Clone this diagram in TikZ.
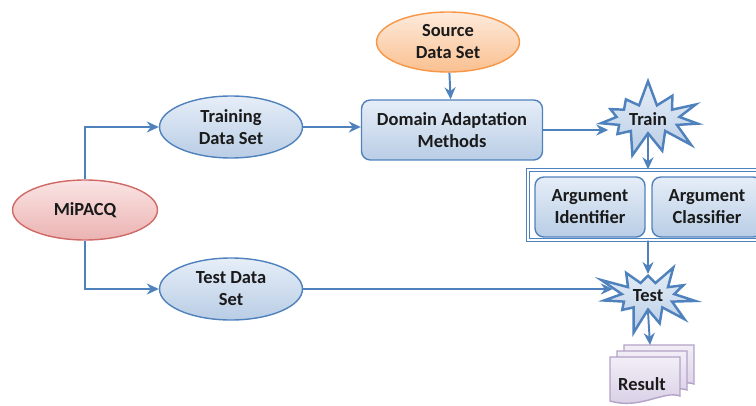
\documentclass[tikz,border=0pt]{standalone}
\usepackage{fontspec}
\setmainfont{Carlito}
\usetikzlibrary{positioning,arrows.meta,shapes.geometric,shapes.symbols}
\definecolor{blue600}  {HTML}{4F81BD}
\definecolor{blue200}  {HTML}{B9CDE5}
\definecolor{blue100}  {HTML}{E6EEF8}
\definecolor{red600}   {HTML}{D06A67}
\definecolor{red200}   {HTML}{EBB3B2}
\definecolor{red100}   {HTML}{FAE4E4}
\definecolor{orange600}{HTML}{F79646}
\definecolor{orange200}{HTML}{FAC090}
\definecolor{orange100}{HTML}{FDEBDC}
\definecolor{purple600}{HTML}{B3A2C7}
\definecolor{purple200}{HTML}{D6CCE4}
\definecolor{purple100}{HTML}{F2EEF7}
\definecolor{grey900}  {HTML}{1A1A1A}
\tikzset{
  base/.style ={line width=0.8pt, align=center, inner sep=2pt, text=grey900,
                font=\fontsize{10.5}{12.5}\selectfont\bfseries},
  ell/.style  ={base, ellipse, draw=blue600, top color=blue100,
                bottom color=blue200, minimum width=2.86cm,
                minimum height=1.24cm},
  ellr/.style ={base, ellipse, draw=red600, top color=red100,
                bottom color=red200, minimum width=2.9cm,
                minimum height=1.2cm},
  ello/.style ={base, ellipse, draw=orange600, top color=orange100,
                bottom color=orange200, minimum width=2.86cm,
                minimum height=1.2cm},
  box/.style  ={base, draw=blue600, top color=blue100, bottom color=blue200,
                rounded corners=5pt, minimum height=1.2cm},
  burst/.style={base, starburst, starburst points=11, line width=1.4pt,
                starburst point height=0.52cm, draw=blue600,
                top color=blue100, bottom color=blue200,
                minimum width=1.45cm, minimum height=0.75cm},
  frame/.style={draw=blue600, line width=0.8pt, double=white,
                double distance=0.8pt, minimum height=1.4cm},
  page/.style ={line width=0.8pt, draw=purple600, top color=purple100,
                bottom color=purple200},
  ar/.style   ={-{Stealth[length=2.4mm,width=2.2mm]}, draw=blue600,
                line width=1.1pt}
}
\begin{document}
\begin{tikzpicture}[x=0.02cm, y=-0.02cm]
\useasboundingbox (0,0) rectangle (756,405);
\clip (0,0) rectangle (756,405);
\node[ellr] (mipacq) at (85,210) {MiPACQ};
\node[ell] (traindata) at (231,127) {Training\\Data Set};
\node[ell] (testdata) at (231,289) {Test Data\\Set};
\node[ello] (source) at (448,42) {Source\\Data Set};
\node[box, minimum width=3.62cm] (dam) at (452,130)
  {Domain Adaptation\\Methods};
\node[burst, random starburst=7] (trainstar) at (648,119) {Train};
\node[frame, minimum width=4.84cm] (models) at (649,205) {};
\node[box, minimum width=2.2cm] (ident) at (590,207)
  {Argument\\Identifier};
\node[box, minimum width=2.2cm] (classif) at (707,207)
  {Argument\\Classifier};
\node[burst, random starburst=23] (teststar) at (648,296) {Test};
% stacked result pages, back to front
\foreach \s in {2,1,0}
  \draw[page, shift={(\s*7,-\s*6)}] (610,357) -- (680,357) -- (680,396)
    .. controls (664,390) and (640,410) .. (610,401) -- cycle;
\node[base, inner sep=0pt] (result) at (642,384) {Result};
\coordinate (resulttop) at (650,345);
\draw[ar] (mipacq.north) |- (traindata.west);
\draw[ar] (mipacq.south) |- (testdata.west);
\draw[ar] (traindata.east) -- (traindata.east -| dam.west);
\draw[ar] (source) -- (dam);
\draw[ar] (dam.east) -- (dam.east -| trainstar.west);
\draw[ar] (trainstar.south) -- (trainstar.south |- models.north);
\draw[ar] (models.south -| teststar) -- (teststar.north);
\draw[ar] (testdata) -- (teststar.west |- testdata);
\draw[ar] (teststar.south) -- (resulttop);
\end{tikzpicture}
\end{document}
